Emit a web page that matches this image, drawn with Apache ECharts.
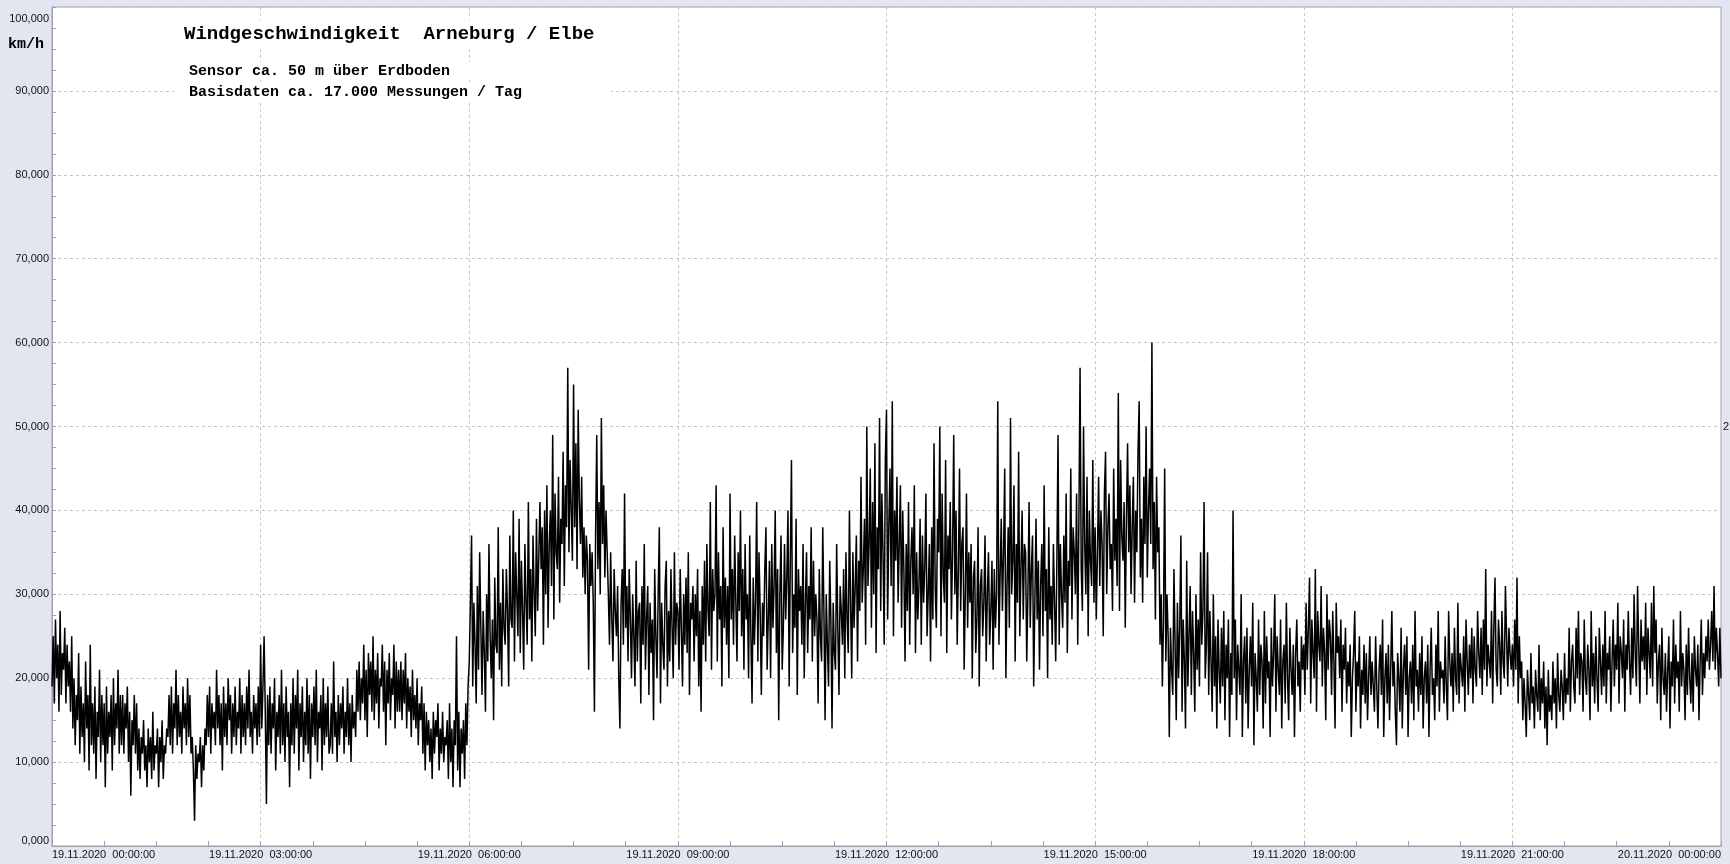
<!DOCTYPE html>
<html><head><meta charset="utf-8">
<script src="https://cdn.jsdelivr.net/npm/echarts@6/dist/echarts.min.js"></script>
<style>html,body{margin:0;padding:0;background:#e3e6f0;}#c{width:1730px;height:864px;}</style>
</head><body><div id="c"></div><script>
// Wind speed (km/h), one array per hour of 19.11.2020, 1-minute readings
const h00=[19,25,17,27,20,24,16,28,18,23,21,26,17,24,19,22,16,25,14,20,12,18,15,23,11,19,13,17,10,22,14,18,9,24,12,17,11,19,8,16,13,21,10,18,12,17,7,19,11,16,13,18,9,20,12,17,14,21,11,18];
const h01=[12,18,11,17,14,19,10,16,6,15,12,18,11,17,9,14,8,13,11,15,9,12,7,14,10,13,8,16,9,12,11,14,7,13,10,15,8,12,11,14,13,18,12,19,11,17,14,21,12,18,13,16,11,19,14,17,12,20,13,18];
const h02=[11,13,9,3,12,8,11,10,13,7,12,9,14,12,18,13,19,11,17,14,16,12,21,14,18,12,17,9,19,13,17,12,20,15,18,11,17,13,19,12,16,14,20,11,18,13,17,12,19,14,21,13,16,11,18,14,17,12,19,13];
const h03=[24,14,19,25,16,5,18,12,19,11,17,14,20,9,16,13,18,11,21,12,17,10,19,13,16,7,17,12,20,11,18,14,21,9,17,13,19,10,16,12,20,11,18,8,17,13,19,12,21,10,16,14,18,9,20,12,17,13,19,11];
const h04=[12,17,11,22,13,16,10,18,12,17,14,19,11,16,13,20,12,17,10,18,14,16,13,21,16,22,15,20,17,24,15,21,13,23,18,22,16,25,15,21,17,23,14,20,19,24,16,22,12,21,17,23,15,20,18,24,14,22,16,21];
const h05=[16,22,15,21,17,23,14,20,16,19,13,21,15,18,14,20,12,17,15,19,11,17,9,16,12,15,10,14,8,16,11,15,13,17,9,14,11,16,10,13,12,15,8,17,10,14,7,15,12,25,9,16,7,14,11,15,8,17,12,19];
const h06=[22,29,37,19,29,24,17,31,21,35,26,18,28,23,16,30,22,36,25,20,27,15,32,24,23,38,21,29,19,33,26,24,33,28,19,37,27,26,40,22,35,30,25,39,23,34,28,21,36,29,24,41,27,33,22,37,30,25,39,28];
const h07=[28,41,33,38,24,40,30,43,26,36,40,31,49,27,42,35,33,44,29,39,36,47,31,43,38,57,35,46,40,34,55,38,48,33,52,41,36,44,32,38,30,37,34,21,36,31,35,29,16,37,49,33,41,30,51,36,43,32,40,35];
const h08=[30,24,35,27,22,33,28,25,31,20,14,29,33,24,42,26,31,22,33,27,20,30,25,19,34,22,28,29,17,31,24,36,21,27,31,18,29,23,27,15,33,25,20,30,38,17,29,24,21,31,34,19,28,22,33,26,20,35,24,29];
const h09=[28,21,33,26,19,30,24,32,23,35,18,29,27,31,22,30,25,33,19,28,16,31,24,34,22,36,28,25,41,21,33,28,30,43,22,35,27,31,19,38,26,32,24,31,20,42,27,33,24,37,29,22,35,28,40,25,33,21,36,27];
const h10=[30,20,37,25,17,32,24,29,41,22,35,28,18,29,25,33,38,21,27,34,20,36,26,31,40,23,33,15,30,37,21,26,36,27,32,40,19,34,46,23,30,26,39,18,33,28,31,24,36,20,29,35,23,31,27,38,22,34,25,30];
const h11=[27,17,33,25,22,38,28,15,30,24,19,34,27,14,29,23,21,36,26,18,31,28,24,33,20,35,27,23,40,29,20,35,26,31,37,22,34,28,44,29,33,39,24,50,31,36,45,26,41,30,48,23,38,33,51,28,42,35,24,46];
const h12=[52,27,38,45,31,53,25,40,34,44,29,36,43,26,40,33,22,36,28,41,24,34,38,30,43,23,35,27,31,39,24,37,29,33,42,25,30,36,22,38,27,48,31,26,39,35,50,25,42,32,29,46,23,37,33,41,27,35,49,30];
const h13=[40,24,33,45,28,36,38,21,30,42,26,35,29,36,20,32,34,23,27,38,19,31,33,25,29,37,22,30,35,24,28,34,21,33,26,30,53,24,32,39,28,35,45,20,31,38,26,51,30,34,43,22,36,29,47,25,33,40,27,36];
const h14=[35,22,30,41,26,33,37,19,29,39,27,34,21,31,36,25,43,28,33,20,38,27,31,24,36,29,22,34,49,24,36,30,26,37,29,42,23,34,31,45,27,38,35,30,42,24,39,57,33,28,50,36,30,44,25,40,34,31,46,29];
const h15=[38,27,35,44,31,40,36,25,42,47,30,38,42,33,36,28,45,34,39,31,54,28,46,37,34,41,26,39,48,35,43,30,38,44,29,40,35,47,53,32,39,29,44,36,50,32,40,45,36,60,33,41,27,44,35,38,24,30,19,27];
const h16=[45,22,30,25,13,26,21,18,33,24,15,29,20,26,37,16,27,22,14,34,19,25,31,18,28,23,16,30,21,27,19,35,24,28,41,20,24,35,18,28,22,16,30,19,25,14,27,21,17,26,19,28,15,24,20,27,13,23,18,40];
const h17=[20,27,15,24,21,18,30,13,22,25,17,26,14,21,25,19,29,12,23,20,16,27,18,24,22,14,28,17,25,20,22,13,26,19,23,30,16,25,21,18,27,14,22,24,17,29,20,15,26,21,18,24,13,23,27,19,22,16,25,21];
const h18=[24,18,29,21,26,32,17,27,23,20,33,16,28,24,22,31,19,26,23,15,30,21,27,25,18,28,22,14,29,23,25,20,27,16,24,21,26,17,22,19,24,13,20,23,28,16,22,19,25,14,21,18,24,17,23,15,20,25,18,22];
const h19=[22,16,25,19,14,21,24,18,27,13,20,23,17,24,15,21,28,19,22,16,12,23,20,16,26,14,21,24,18,25,13,20,22,17,24,15,28,19,21,16,23,18,25,14,20,22,17,24,13,21,26,18,20,15,24,19,28,16,22,20];
const h20=[21,17,25,19,15,28,22,19,23,16,26,20,18,29,17,23,21,19,25,16,27,22,18,24,20,26,17,25,21,19,28,23,20,26,18,27,21,33,19,24,22,20,28,17,26,32,21,19,27,24,18,28,22,20,31,25,19,26,23,21];
const h21=[24,19,27,21,32,17,25,20,22,15,20,17,13,21,18,15,23,17,19,14,21,18,16,24,15,20,17,22,14,19,12,21,16,18,15,22,17,20,14,23,18,16,21,19,15,23,17,20,18,26,16,22,24,19,17,26,20,28,18,23];
const h22=[22,16,27,20,18,24,21,15,28,19,23,17,25,20,16,26,22,18,24,19,28,17,23,21,25,16,22,27,19,24,21,29,17,25,23,20,27,16,24,21,28,22,18,26,20,30,23,19,31,24,17,27,22,25,21,29,18,26,23,20];
const h23=[29,19,31,23,27,17,22,24,15,26,20,18,23,16,21,25,14,22,19,27,17,24,20,22,16,28,19,23,21,15,24,18,26,20,17,23,16,25,21,19,24,15,22,27,18,23,20,25,22,27,21,24,28,22,31,21,26,23,19,26];
const endValue=20;

const xLabels=['19.11.2020  00:00:00','19.11.2020  03:00:00','19.11.2020  06:00:00','19.11.2020  09:00:00','19.11.2020  12:00:00','19.11.2020  15:00:00','19.11.2020  18:00:00','19.11.2020  21:00:00','20.11.2020  00:00:00'];
const yLabels=['0,000','10,000','20,000','30,000','40,000','50,000','60,000','70,000','80,000','90,000','100,000'];

const title='Windgeschwindigkeit  Arneburg / Elbe';
const sub1='Sensor ca. 50 m über Erdboden';
const sub2='Basisdaten ca. 17.000 Messungen / Tag';
const unit='km/h';

const hours=[h00,h01,h02,h03,h04,h05,h06,h07,h08,h09,h10,h11,h12,h13,h14,h15,h16,h17,h18,h19,h20,h21,h22,h23];
const data=[];
hours.forEach((arr,h)=>arr.forEach((v,j)=>data.push([h+j/arr.length,v])));
data.push([24,endValue]);

const axisCol='#9ea2ae', gridCol='#c6c6c6';
const chart=echarts.init(document.getElementById('c'),null,{renderer:'canvas'});
chart.setOption({
  backgroundColor:'#e3e6f0',
  animation:false,
  grid:{left:52,right:9,top:7,bottom:18,show:true,backgroundColor:'#ffffff',borderColor:axisCol,borderWidth:1},
  xAxis:{type:'value',min:0,max:24,interval:3,
    axisLine:{show:true,lineStyle:{color:axisCol}},
    axisTick:{show:true,inside:true,length:5,lineStyle:{color:axisCol}},
    minorTick:{show:true,splitNumber:4,length:5,lineStyle:{color:axisCol}},
    splitLine:{show:true,lineStyle:{color:gridCol,type:[3,3],width:1}},
    axisLabel:{fontFamily:'"Liberation Sans", Arial, sans-serif',fontSize:11,color:'#111',margin:3,
      alignMinLabel:'left',alignMaxLabel:'right',
      formatter:v=>xLabels[Math.round(v/3)]}
  },
  yAxis:{type:'value',min:0,max:100,interval:10,
    axisLine:{show:true,lineStyle:{color:axisCol}},
    axisTick:{show:true,inside:true,length:4,lineStyle:{color:axisCol}},
    minorTick:{show:true,splitNumber:4,length:4,lineStyle:{color:axisCol}},
    splitLine:{show:true,lineStyle:{color:gridCol,type:[3,3],width:1}},
    axisLabel:{fontFamily:'"Liberation Sans", Arial, sans-serif',fontSize:11,color:'#111',margin:3,
      padding:[6,0,0,0],
      verticalAlignMinLabel:'bottom',verticalAlignMaxLabel:'top',
      formatter:v=>yLabels[Math.round(v/10)]}
  },
  series:[{type:'line',data:data,showSymbol:false,symbol:'none',sampling:null,
    lineStyle:{color:'#000',width:1.5},itemStyle:{color:'#000'},z:3}],
  graphic:[
    {type:'rect',z:100,shape:{x:174,y:20,width:437,height:28},style:{fill:'#fff'}},
    {type:'rect',z:100,shape:{x:174,y:62,width:437,height:18},style:{fill:'#fff'}},
    {type:'rect',z:100,shape:{x:174,y:83,width:437,height:18},style:{fill:'#fff'}},
    {type:'text',z:101,x:184,y:34,style:{text:title,font:'bold 19px "Liberation Mono", "Courier New", monospace',fill:'#000',verticalAlign:'middle'}},
    {type:'text',z:101,x:189,y:71,style:{text:sub1,font:'bold 15px "Liberation Mono", "Courier New", monospace',fill:'#000',verticalAlign:'middle'}},
    {type:'text',z:101,x:189,y:92,style:{text:sub2,font:'bold 15px "Liberation Mono", "Courier New", monospace',fill:'#000',verticalAlign:'middle'}},
    {type:'text',z:101,x:8,y:44,style:{text:unit,font:'bold 15px "Liberation Mono", "Courier New", monospace',fill:'#000',verticalAlign:'middle'}},
    {type:'text',z:101,x:1723,y:427,style:{text:'2',font:'11px "Liberation Sans", Arial, sans-serif',fill:'#111',verticalAlign:'middle'}}
  ]
});
</script></body></html>
